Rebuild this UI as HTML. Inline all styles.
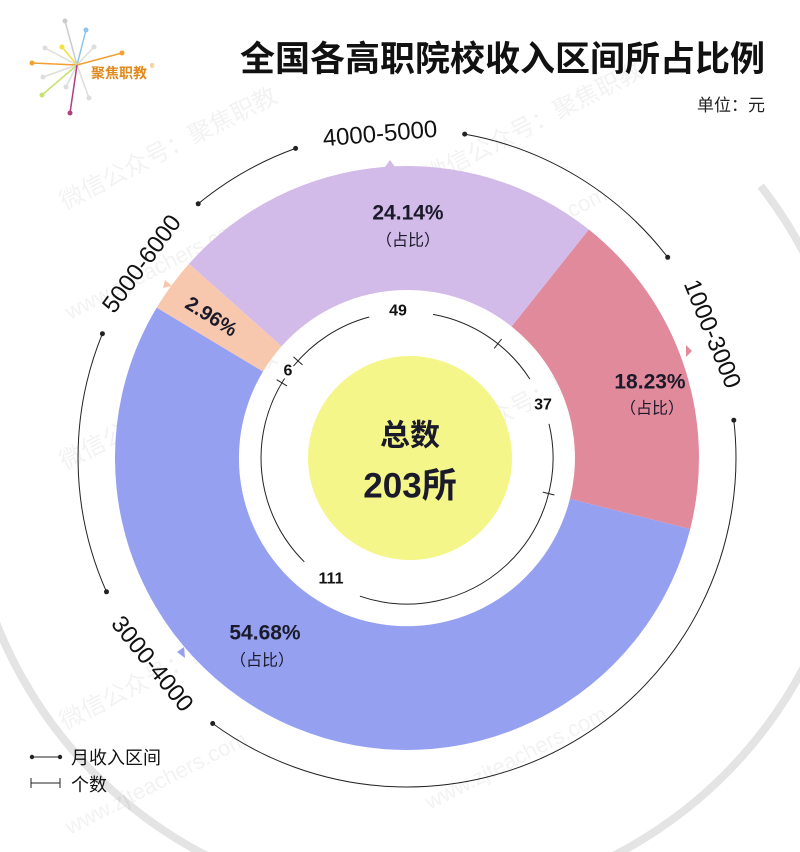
<!DOCTYPE html>
<html><head><meta charset="utf-8"><style>
html,body{margin:0;padding:0;background:#fff;overflow:hidden;width:800px;height:852px;}
svg{display:block;font-family:"Liberation Sans","Noto Sans CJK SC",sans-serif;}
</style></head><body>
<svg width="800" height="852" viewBox="0 0 800 852" xmlns="http://www.w3.org/2000/svg" overflow="hidden">
<rect width="800" height="852" fill="#fff"/>
<path d="M760.7,186 A445,445 0 0 1 410,905 A445,445 0 0 1 -28,537" fill="none" stroke="#e4e4e4" stroke-width="8"/>

<g stroke-width="1.5">
<line x1="77" y1="65" x2="65" y2="21" stroke="#ccc"/><circle cx="65" cy="21" r="2.5" fill="#ccc"/>
<line x1="77" y1="65" x2="86" y2="30" stroke="#8cc4ec"/><circle cx="86" cy="30" r="2.5" fill="#8cc4ec"/>
<line x1="77" y1="65" x2="62" y2="47" stroke="#f0e040"/><circle cx="62" cy="47" r="2.5" fill="#f0e040"/>
<line x1="77" y1="65" x2="45" y2="48" stroke="#ddd"/><circle cx="45" cy="48" r="2.5" fill="#ddd"/>
<line x1="77" y1="65" x2="94" y2="47" stroke="#ddd"/><circle cx="94" cy="47" r="2.5" fill="#ddd"/>
<line x1="77" y1="65" x2="122" y2="53" stroke="#f0a030"/><circle cx="122" cy="53" r="2.5" fill="#f0a030"/>
<line x1="77" y1="65" x2="32" y2="63" stroke="#f0a030"/><circle cx="32" cy="63" r="2.5" fill="#f0a030"/>
<line x1="77" y1="65" x2="43" y2="77" stroke="#ddd"/><circle cx="43" cy="77" r="2.5" fill="#ddd"/>
<line x1="77" y1="65" x2="66" y2="87" stroke="#ddd"/><circle cx="66" cy="87" r="2.5" fill="#ddd"/>
<line x1="77" y1="65" x2="42" y2="95" stroke="#c8e070"/><circle cx="42" cy="95" r="2.5" fill="#c8e070"/>
<line x1="77" y1="65" x2="89" y2="98" stroke="#ddd"/><circle cx="89" cy="98" r="2.5" fill="#ddd"/>
<line x1="77" y1="65" x2="70" y2="113" stroke="#b04080"/><circle cx="70" cy="113" r="2.5" fill="#b04080"/>
</g>
<text x="91" y="78" font-size="14" font-weight="bold" fill="#e08a1e">聚焦职教</text>
<text x="150" y="68" font-size="6" fill="#e08a1e">®</text>

<text x="765" y="71" text-anchor="end" font-size="35" font-weight="bold" fill="#111">全国各高职院校收入区间所占比例</text>
<text x="765" y="111" text-anchor="end" font-size="17" fill="#222">单位：元</text>

<g fill="#000" fill-opacity="0.05" font-size="24">
<text transform="translate(65,210) rotate(-27)">微信公众号：聚焦职教</text>
<text transform="translate(70,320) rotate(-27)" font-size="22">www.zjteachers.com</text>
<text transform="translate(430,185) rotate(-27)">微信公众号：聚焦职教</text>
<text transform="translate(430,290) rotate(-27)" font-size="22">www.zjteachers.com</text>
<text transform="translate(65,730) rotate(-27)">微信公众号：聚焦职教</text>
<text transform="translate(70,835) rotate(-27)" font-size="22">www.zjteachers.com</text>
<text transform="translate(430,705) rotate(-27)">微信公众号：聚焦职教</text>
<text transform="translate(430,810) rotate(-27)" font-size="22">www.zjteachers.com</text>
<text transform="translate(65,470) rotate(-27)">微信公众号：聚焦职教</text>
<text transform="translate(430,460) rotate(-27)">微信公众号：聚焦职教</text>
</g>

<path d="M588.8,229.5 A292,292 0 0 1 690.2,529.1 L569.9,498.9 A168,168 0 0 0 511.6,326.5 Z" fill="#e08a9c"/>
<path d="M690.2,529.1 A292,292 0 1 1 156.7,307.6 L263.0,371.5 A168,168 0 1 0 569.9,498.9 Z" fill="#95a0f0"/>
<path d="M156.7,307.6 A292,292 0 0 1 189.0,263.8 L281.6,346.2 A168,168 0 0 0 263.0,371.5 Z" fill="#f8c8ae"/>
<path d="M189.0,263.8 A292,292 0 0 1 588.8,229.5 L511.6,326.5 A168,168 0 0 0 281.6,346.2 Z" fill="#d2bbe8"/>
<polygon points="385,167 390,160 395,167" fill="#d2bbe8"/>
<polygon points="686,345 692,351 686,357" fill="#e08a9c"/>
<polygon points="163,288 165,280 172,286" fill="#f8c8ae"/>
<polygon points="184,647 177,652 185,658" fill="#95a0f0"/>

<circle cx="410" cy="458" r="102" fill="#f4f68a"/>

<g fill="none" stroke="#222" stroke-width="1">
<path d="M433.1,314.4 A146,146 0 0 1 529.9,379.1"/>
<path d="M549.0,423.9 A146,146 0 0 1 359.9,596.2"/>
<path d="M304.3,561.8 A146,146 0 0 1 284.6,378.5"/>
<path d="M293.5,366.1 A146,146 0 0 1 369.2,317.0"/>
</g>
<g stroke="#222" stroke-width="1">
<line x1="494.2" y1="348.4" x2="501.6" y2="339.0"/>
<line x1="542.8" y1="492.1" x2="554.4" y2="495.0"/>
<line x1="287" y1="385.9" x2="276.7" y2="379.7"/>
<line x1="302.5" y1="364.9" x2="293.5" y2="356.9"/>
</g>
<g font-size="16" font-weight="bold" fill="#111" text-anchor="middle" dominant-baseline="central">
<text x="398" y="311">49</text>
<text x="543" y="405">37</text>
<text x="331" y="579">111</text>
<text x="288" y="371">6</text>
</g>

<g fill="none" stroke="#222" stroke-width="1">
<path d="M464.7,134.1 A329,329 0 0 1 667.7,257.3"/>
<path d="M733.8,420.2 A329,329 0 0 1 212.7,723.5"/>
<path d="M106.5,591.8 A329,329 0 0 1 102.4,333.7"/>
<path d="M198.2,203.8 A329,329 0 0 1 295.6,148.4"/>
</g>
<g fill="#222">
<circle cx="464.7" cy="134.1" r="2.5"/><circle cx="667.7" cy="257.3" r="2.5"/>
<circle cx="733.8" cy="420.2" r="2.5"/><circle cx="212.7" cy="723.5" r="2.5"/>
<circle cx="106.5" cy="591.8" r="2.5"/><circle cx="102.4" cy="333.7" r="2.5"/>
<circle cx="198.2" cy="203.8" r="2.5"/><circle cx="295.6" cy="148.4" r="2.5"/>
</g>
<g font-size="24" fill="#111" text-anchor="middle" dominant-baseline="central">
<text transform="translate(380,134) rotate(-4.8)">4000-5000</text>
<text transform="translate(142,264) rotate(-53.6)">5000-6000</text>
<text transform="translate(712,334) rotate(67.9)">1000-3000</text>
<text transform="translate(152,664) rotate(51.1)">3000-4000</text>
</g>

<g fill="#1a1a2a" text-anchor="middle" dominant-baseline="central">
<text x="408" y="213" font-size="21" font-weight="bold">24.14%</text>
<text x="408" y="241" font-size="16">（占比）</text>
<text x="650" y="382" font-size="21" font-weight="bold">18.23%</text>
<text x="652" y="409" font-size="16">（占比）</text>
<text x="265" y="633" font-size="21" font-weight="bold">54.68%</text>
<text x="262" y="661" font-size="16">（占比）</text>
<text transform="translate(211,317) rotate(32)" font-size="20" font-weight="bold">2.96%</text>
<text x="410" y="436" font-size="30" font-weight="bold">总数</text>
<text x="410" y="486" font-size="35" font-weight="bold">203所</text>
</g>

<g stroke="#222" stroke-width="1">
<line x1="32" y1="757" x2="60" y2="757"/>
<line x1="31" y1="783" x2="60" y2="783"/>
<line x1="31" y1="778" x2="31" y2="788"/>
<line x1="60" y1="778" x2="60" y2="788"/>
</g>
<circle cx="32" cy="757" r="2.2" fill="#222"/><circle cx="60" cy="757" r="2.2" fill="#222"/>
<text x="71" y="764" font-size="18" fill="#111">月收入区间</text>
<text x="71" y="791" font-size="18" fill="#111">个数</text>
</svg>
</body></html>
